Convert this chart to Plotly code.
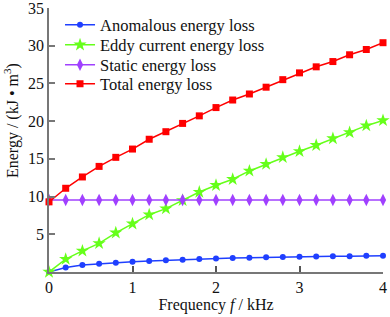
import plotly.graph_objects as go

freq = [0, 0.2, 0.4, 0.6, 0.8, 1.0, 1.2, 1.4, 1.6, 1.8, 2.0, 2.2, 2.4, 2.6, 2.8, 3.0, 3.2, 3.4, 3.6, 3.8, 4.0]
anomalous = [0, 0.6, 0.93, 1.1, 1.23, 1.37, 1.46, 1.55, 1.63, 1.72, 1.8, 1.85, 1.9, 1.95, 2.0, 2.03, 2.07, 2.1, 2.1, 2.15, 2.15]
eddy = [0, 1.7, 2.8, 3.8, 5.2, 6.4, 7.6, 8.4, 9.5, 10.6, 11.5, 12.3, 13.4, 14.3, 15.2, 16.0, 16.8, 17.7, 18.5, 19.4, 20.1]
static = [9.55] * 21
total = [9.3, 11.1, 12.6, 14.0, 15.2, 16.3, 17.6, 18.6, 19.7, 20.7, 21.8, 22.8, 23.6, 24.5, 25.5, 26.4, 27.2, 27.9, 28.8, 29.5, 30.4]

names = ["Anomalous energy loss", "Eddy current energy loss", "Static energy loss", "Total energy loss"]
series = [anomalous, eddy, static, total]
colors = ["#1f3fff", "#66ff1a", "#a040ff", "#ff0000"]
symbols = ["circle", "star", "diamond-tall", "square"]
sizes = [6, 10, 9, 7]
legend_ids = ["legend", "legend2", "legend3", "legend4"]

FONT = "Liberation Serif, Times New Roman, serif"
W, H = 390, 317
ML, MR, MT, MB = 49, 7, 8, 45
plot_w = W - ML - MR
plot_h = H - MT - MB
legend_centers_px = [25, 45, 65, 84]

fig = go.Figure()
for n, s, c, sym, sz, lid in zip(names, series, colors, symbols, sizes, legend_ids):
    fig.add_trace(go.Scatter(
        x=freq, y=s, name=n, mode="lines+markers",
        line=dict(color=c, width=1.5),
        marker=dict(symbol=sym, size=sz, color=c, line=dict(width=0)),
        cliponaxis=False, legend=lid,
    ))

legend_style = dict(xanchor="left", yanchor="middle", bgcolor="rgba(0,0,0,0)",
                    font=dict(family=FONT, size=16.5, color="#111"),
                    borderwidth=0, itemwidth=30)
layout_legends = {}
for lid, cy in zip(legend_ids, legend_centers_px):
    layout_legends[lid] = dict(x=0.033, y=(H - MB - cy) / plot_h, **legend_style)

fig.update_layout(
    width=W, height=H,
    margin=dict(l=ML, r=MR, t=MT, b=MB),
    paper_bgcolor="white", plot_bgcolor="white",
    font=dict(family=FONT, size=16, color="#111"),
    showlegend=True,
    **layout_legends,
)
fig.add_annotation(
    text="Energy / (kJ • m<sup>3</sup>)", textangle=-90,
    xref="paper", yref="paper",
    x=(12 - ML) / plot_w, y=(H - MB - 121) / plot_h,
    xanchor="center", yanchor="middle", showarrow=False,
    font=dict(family=FONT, size=16, color="#111"),
)
fig.update_xaxes(
    range=[0, 4], tickvals=[0, 1, 2, 3, 4], ticktext=["0", "1", "2", "3", "4"],
    showline=True, linecolor="#777", linewidth=1.5,
    ticks="inside", ticklen=6, tickcolor="#555", tickwidth=1.5,
    showgrid=False, zeroline=False, automargin=False, ticklabeloverflow="allow",
    title=dict(text="Frequency <i>f</i> / kHz", font=dict(family=FONT, size=16), standoff=2),
)
fig.update_yaxes(
    range=[0, 35], tickvals=[5, 10, 15, 20, 25, 30, 35],
    showline=True, linecolor="#777", linewidth=1.5,
    ticks="inside", ticklen=6, tickcolor="#777", tickwidth=1.5,
    showgrid=False, zeroline=False, automargin=False, ticklabeloverflow="allow",
)

fig.write_html("out.html", config={"displayModeBar": False},
               post_script="document.body.style.margin='0';document.body.style.overflow='hidden';")
